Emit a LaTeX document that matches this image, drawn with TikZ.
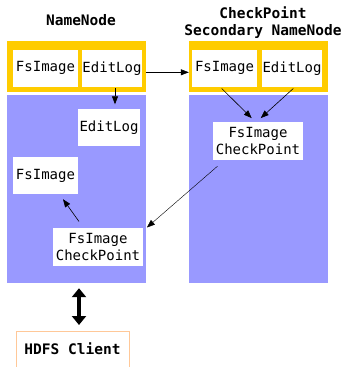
\documentclass[tikz,border=0pt]{standalone}
\usepackage{fontspec}
\setmainfont{DejaVu Sans Mono}
\usetikzlibrary{arrows.meta}
\definecolor{frame}{HTML}{FFCC00}
\definecolor{panel}{HTML}{9999FF}
\definecolor{clientline}{HTML}{FFC898}
\begin{document}
\begin{tikzpicture}[x=1pt,y=-1pt,
  title/.style={font=\fontsize{14.5}{17}\selectfont\bfseries, align=center},
  yellowbox/.style={fill=frame, draw=none, minimum width=139, minimum height=51, inner sep=0pt},
  bluebox/.style={fill=panel, draw=none, minimum width=139, minimum height=188, inner sep=0pt},
  file/.style={fill=white, draw=none, inner sep=0pt, align=center, font=\fontsize{14}{17}\selectfont},
  flow/.style={-{Triangle[length=8pt,width=6pt]}, line width=0.6pt},
  client/.style={draw=clientline, line width=0.8pt, fill=white, inner xsep=0pt, inner ysep=9pt,
    text height=14pt, text depth=14pt, minimum width=113, font=\fontsize{14.5}{17}\selectfont\bfseries},
  both/.style={{Triangle[length=9pt,width=14pt]}-{Triangle[length=9pt,width=14pt]}, line width=4pt}]
  \useasboundingbox (0,0) rectangle (345,367);

  % headings
  \node[title] (lt) at (81,20) {NameNode};
  \node[title] (rt) at (263,23) {CheckPoint\\Secondary NameNode};

  % primary name node
  \node[yellowbox] (ly) at (76.5,66) {};
  \node[bluebox] (lb) at (76.5,189) {};
  \node[file, minimum width=65, minimum height=36.5] (lfs) at (45.5,68.3) {FsImage};
  \node[file, minimum width=60, minimum height=36.5] (led) at (112,68.3) {EditLog};
  \node[file, minimum width=62, minimum height=37] (led2) at (109,127.5) {EditLog};
  \node[file, minimum width=65, minimum height=37] (lfs2) at (45.5,175.5) {FsImage};
  \node[file, minimum width=90, minimum height=38] (lcp) at (98,247) {FsImage\\CheckPoint};

  % secondary name node
  \node[yellowbox] (ry) at (258.5,66) {};
  \node[bluebox] (rb) at (258.5,189) {};
  \node[file, minimum width=65, minimum height=36.5] (rfs) at (224.5,68.3) {FsImage};
  \node[file, minimum width=60, minimum height=36.5] (red) at (292,68.3) {EditLog};
  \node[file, minimum width=90, minimum height=38] (rcp) at (258,141) {FsImage\\CheckPoint};

  % client
  \node[client, anchor=north] (cl) at (72.5,331) {HDFS Client};

  % connectors
  \draw[flow] ([xshift=3,yshift=-1.5]led.south) -- ([xshift=6,yshift=4.5]led2.north);
  \draw[flow] ([yshift=-6.3]ly.east) -- ([yshift=-6.3]ry.west);
  \draw[flow] ([xshift=-2.8,yshift=-1.75]rfs.south) -- ([xshift=-6.3,yshift=3.7]rcp.north);
  \draw[flow] ([xshift=1.3,yshift=-1.75]red.south) -- ([xshift=2.7,yshift=3.7]rcp.north);
  \draw[flow, line width=0.4pt] ([xshift=4.7,yshift=-6]rcp.south west) -- ([xshift=3.7,yshift=0.3]lcp.north east);
  \draw[flow] ([xshift=-19,yshift=6.3]lcp.north) -- ([xshift=17.5,yshift=-5]lfs2.south);
  \draw[both] ([xshift=2.5,yshift=-5]lb.south) -- ([xshift=6.5,yshift=6]cl.north);
\end{tikzpicture}
\end{document}
